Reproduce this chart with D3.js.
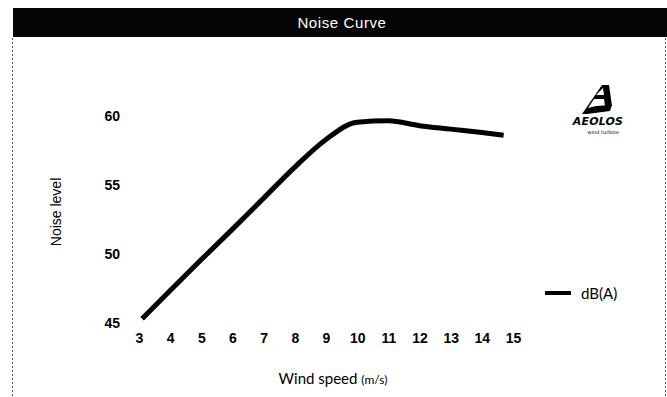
<!DOCTYPE html>
<html>
<head>
<meta charset="utf-8">
<script src="https://cdn.jsdelivr.net/npm/d3@7"></script>
<style>
  html, body { margin: 0; padding: 0; background: #fff; }
  svg { display: block; }
</style>
</head>
<body>
<svg id="chart" width="667" height="397"></svg>
<script>
// Wind speed (m/s) and noise level dB(A) along the curve
const windSpeed = [3.1, 4, 5, 6, 7, 8, 9, 10, 11, 12, 13, 14, 14.7];
const noiseLevel = [45.3, 47.35, 49.6, 51.8, 54.05, 56.3, 58.3, 59.55, 59.65, 59.3, 59.05, 58.8, 58.6];
const xTicks = [3, 4, 5, 6, 7, 8, 9, 10, 11, 12, 13, 14, 15];
const yTicks = [45, 50, 55, 60];
const seriesName = "dB(A)";

const svg = d3.select("#chart");

const x = d3.scaleLinear().domain([3, 15]).range([139, 513]);
const y = d3.scaleLinear().domain([45, 60]).range([323, 116]);

// Title band
svg.append("rect").attr("x", 13).attr("y", 8).attr("width", 654).attr("height", 29).attr("fill", "#050505");
svg.append("text").attr("x", 342).attr("y", 28).attr("text-anchor", "middle")
  .attr("fill", "#fff").attr("font-family", "Liberation Sans, Arial, sans-serif")
  .attr("font-size", 15).attr("letter-spacing", 0.6).text("Noise Curve");

// Side borders
svg.append("line").attr("x1", 12.5).attr("x2", 12.5).attr("y1", 38).attr("y2", 397)
  .attr("stroke", "#555").attr("stroke-width", 1).attr("stroke-dasharray", "2,2");
svg.append("line").attr("x1", 665.5).attr("x2", 665.5).attr("y1", 38).attr("y2", 397)
  .attr("stroke", "#555").attr("stroke-width", 1).attr("stroke-dasharray", "2,2");

// Axes (labels only)
const xAxis = svg.append("g").attr("transform", "translate(0,333)")
  .call(d3.axisBottom(x).tickValues(xTicks).tickSize(0).tickPadding(0).tickFormat(d3.format("d")));
xAxis.select(".domain").remove();
xAxis.selectAll("text").attr("font-family", "Liberation Sans, Arial, sans-serif")
  .attr("font-size", 14).attr("font-weight", "bold").attr("fill", "#000").attr("dy", "0.71em");

const yAxis = svg.append("g").attr("transform", "translate(120,0)")
  .call(d3.axisLeft(y).tickValues(yTicks).tickSize(0).tickPadding(0).tickFormat(d3.format("d")));
yAxis.select(".domain").remove();
yAxis.selectAll("text").attr("font-family", "Liberation Sans, Arial, sans-serif")
  .attr("font-size", 14).attr("font-weight", "bold").attr("fill", "#000");

// Axis titles
const xTitle = svg.append("text").attr("x", 333).attr("y", 384).attr("text-anchor", "middle")
  .attr("font-family", "Lato, Open Sans, sans-serif").attr("font-size", 15).attr("fill", "#000");
xTitle.append("tspan").text("Wind speed ");
xTitle.append("tspan").attr("font-size", 12).text("(m/s)");

svg.append("text").attr("transform", "translate(61,212) rotate(-90)").attr("text-anchor", "middle")
  .attr("font-family", "Liberation Sans, Arial, sans-serif").attr("font-size", 14).attr("fill", "#000")
  .text("Noise level");

// Noise curve
const line = d3.line().x((d, i) => x(windSpeed[i])).y(d => y(d)).curve(d3.curveMonotoneX);
svg.append("path").datum(noiseLevel).attr("d", line)
  .attr("fill", "none").attr("stroke", "#000").attr("stroke-width", 5)
  .attr("stroke-linecap", "butt").attr("stroke-linejoin", "round");

// Legend
svg.append("line").attr("x1", 545).attr("x2", 571).attr("y1", 293).attr("y2", 293)
  .attr("stroke", "#000").attr("stroke-width", 4);
svg.append("text").attr("x", 581).attr("y", 298.5)
  .attr("font-family", "Lato, Open Sans, sans-serif").attr("font-size", 15).attr("fill", "#000")
  .text(seriesName);

// Logo
const logo = svg.append("g").attr("transform", "translate(574,83)");
logo.append("path").attr("d", "M8,31 L28,2 L35,2 L38,23 L31,23 L30,16 L20,16 L14,25 L22,23 L38,22 L36,28 L13,31 Z M22,12 L30,12 L29,5 Z")
  .attr("fill", "#000");
logo.append("text").attr("x", 24).attr("y", 42).attr("text-anchor", "middle")
  .attr("font-family", "DejaVu Sans, sans-serif").attr("font-weight", "bold").attr("font-style", "italic")
  .attr("font-size", 11).attr("letter-spacing", 0.2).attr("fill", "#000").text("AEOLOS");
logo.append("text").attr("x", 45).attr("y", 51).attr("text-anchor", "end")
  .attr("font-family", "DejaVu Sans, sans-serif").attr("font-size", 5).attr("fill", "#000").text("wind turbine");
</script>
</body>
</html>
